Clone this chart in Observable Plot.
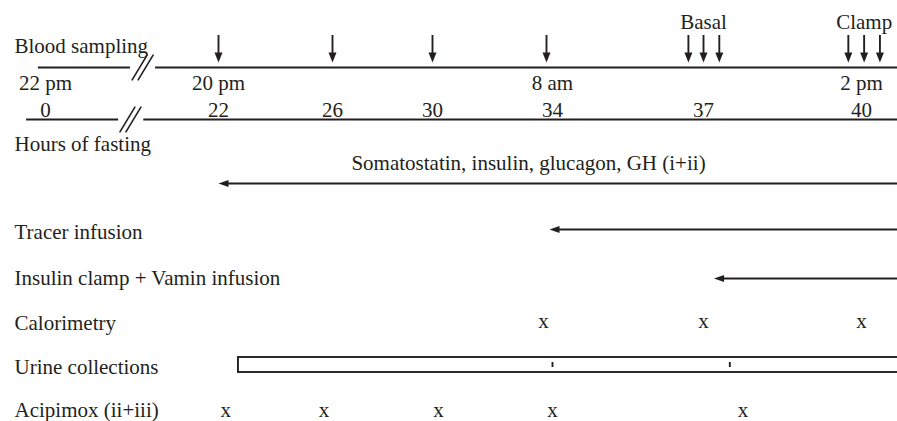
<!DOCTYPE html>
<html>
<head>
<meta charset="utf-8">
<script src="https://cdn.jsdelivr.net/npm/d3@7"></script>
<script src="https://cdn.jsdelivr.net/npm/@observablehq/plot@0.6"></script>
<style>
  html, body { margin: 0; padding: 0; background: #fff; overflow: hidden; }
</style>
</head>
<body>
<div id="chart"></div>
<script>
// ---------- data (hours of fasting) ----------
const rowNames = [
  "Blood sampling",
  "Clock",
  "Hours of fasting",
  "Somatostatin, insulin, glucagon, GH (i+ii)",
  "Tracer infusion",
  "Insulin clamp + Vamin infusion",
  "Calorimetry",
  "Urine collections",
  "Acipimox (ii+iii)"
];
const clockHours = [0, 22, 34, 40];
const clockLabels = ["22 pm", "20 pm", "8 am", "2 pm"];
const fastingHours = [0, 22, 26, 30, 34, 37, 40];
const samplingHours = [22, 26, 30, 33.8];
const basalHours = [36.7, 37, 37.3];
const clampHours = [39.75, 40.05, 40.35];
const sampleGroupLabels = ["Basal", "Clamp"];
const sampleGroupHours = [37, 40.05];
const infusionNames = [rowNames[3], rowNames[4], rowNames[5]];
const infusionStart = [22, 33.9, 37.2];
const studyEnd = 40.7;
const calorimetryHours = [33.7, 37, 40];
const urineStart = 22.7;
const urineSplitHours = [34, 37.5];
const acipimoxHours = [22.25, 25.7, 30.2, 34, 37.75];
// broken time axes (segments and break marks, in hours)
const clockAxisFrom = [-0.9, 14.0];
const clockAxisTo = [10.8, studyEnd];
const fastingAxisFrom = [-2.4, 12.5];
const fastingAxisTo = [9.3, studyEnd];
const clockBreak = 12.35;
const fastingBreak = 10.8;

// ---------- scale layout (schematic, piecewise) ----------
const hourKnots = fastingHours;
const pxKnots = [45, 218, 332, 432, 552, 703, 861];
const rowPx = [35, 67, 119, 183, 229, 278, 323, 365, 410];

const ink = "#231f20";
const FS = 21;
const row = name => rowNames.indexOf(name);

const axisSegments = [
  ...clockAxisFrom.map((f, i) => ({row: row("Clock"), from: f, to: clockAxisTo[i]})),
  ...fastingAxisFrom.map((f, i) => ({row: row("Hours of fasting"), from: f, to: fastingAxisTo[i]}))
];
const breaks = [
  {row: row("Clock"), hour: clockBreak},
  {row: row("Hours of fasting"), hour: fastingBreak}
];
const allSamples = [...samplingHours, ...basalHours, ...clampHours];
const infusions = infusionNames.map((n, i) => ({row: row(n), start: infusionStart[i], end: studyEnd}));

const label = (name, dy) => Plot.text([name], {
  frameAnchor: "left", y: d => row(d), text: d => d, dx: 14, dy,
  textAnchor: "start", fontSize: FS, fill: ink
});

const chart = Plot.plot({
  width: 897,
  height: 421,
  margin: 0,
  style: {fontFamily: "'Liberation Serif', 'Times New Roman', serif", background: "#fff", color: ink},
  x: {type: "linear", domain: hourKnots, range: pxKnots, axis: null},
  y: {type: "linear", domain: d3.range(rowNames.length), range: rowPx, axis: null},
  marks: [
    // time axes
    Plot.ruleY(axisSegments, {y: "row", x1: "from", x2: "to", stroke: ink, strokeWidth: 1.9}),
    Plot.vector(breaks, {x: "hour", y: "row", length: 29, rotate: 31, shape: "spike", r: 0,
      anchor: "middle", stroke: ink, strokeWidth: 1.6, fill: "none", dx: -3}),
    Plot.vector(breaks, {x: "hour", y: "row", length: 29, rotate: 31, shape: "spike", r: 0,
      anchor: "middle", stroke: ink, strokeWidth: 1.6, fill: "none", dx: 3}),
    Plot.text(clockHours, {x: d => d, y: () => row("Clock"), text: (d, i) => clockLabels[i],
      dy: 15.5, fontSize: FS, fill: ink}),
    Plot.text(fastingHours, {x: d => d, y: () => row("Hours of fasting"), text: d => String(d),
      dy: -9, fontSize: FS, fill: ink}),
    // blood sampling arrows
    Plot.ruleX(allSamples, {x: d => d, y1: () => row("Blood sampling"), y2: () => row("Clock"),
      insetBottom: 8, stroke: ink, strokeWidth: 1.9}),
    Plot.vector(allSamples, {x: d => d, y: () => row("Clock"), length: 10, r: 4, rotate: 180,
      shape: "spike", anchor: "end", fill: ink, stroke: "none", dy: -5}),
    Plot.text(sampleGroupLabels, {x: (d, i) => sampleGroupHours[i], y: () => row("Blood sampling"),
      text: d => d, dy: -13, fontSize: FS, fill: ink}),
    // row labels
    label("Blood sampling", 10.5),
    label("Hours of fasting", 25),
    label("Tracer infusion", 3),
    label("Insulin clamp + Vamin infusion", 0),
    label("Calorimetry", 0),
    label("Urine collections", 2),
    label("Acipimox (ii+iii)", 0),
    // infusions
    Plot.ruleY(infusions, {y: "row", x1: "start", x2: "end", insetLeft: 6, stroke: ink, strokeWidth: 1.9}),
    Plot.vector(infusions, {x: "start", y: "row", length: 10, r: 3.6, rotate: 270,
      shape: "spike", anchor: "end", fill: ink, stroke: "none"}),
    Plot.text([infusionNames[0]], {x: () => 33.2, y: d => row(d), text: d => d, dy: -20,
      fontSize: FS, fill: ink}),
    // calorimetry
    Plot.text(calorimetryHours, {x: d => d, y: () => row("Calorimetry"), text: () => "x",
      dy: -2, fontSize: FS, fill: ink}),
    // urine collections
    Plot.rect([urineStart], {x1: d => d, x2: () => studyEnd + 1, y1: () => row("Urine collections"),
      y2: () => row("Urine collections"), insetTop: -8, insetBottom: -7, fill: "none",
      stroke: ink, strokeWidth: 1.9, clip: true}),
    Plot.ruleX(urineSplitHours, {x: d => d, y1: () => row("Urine collections"),
      y2: () => row("Urine collections"), insetTop: -3, insetBottom: -2, stroke: ink, strokeWidth: 1.9}),
    // acipimox
    Plot.text(acipimoxHours, {x: d => d, y: () => row("Acipimox (ii+iii)"), text: () => "x",
      dy: 0, fontSize: FS, fill: ink})
  ]
});
document.getElementById("chart").appendChild(chart);
</script>
</body>
</html>
